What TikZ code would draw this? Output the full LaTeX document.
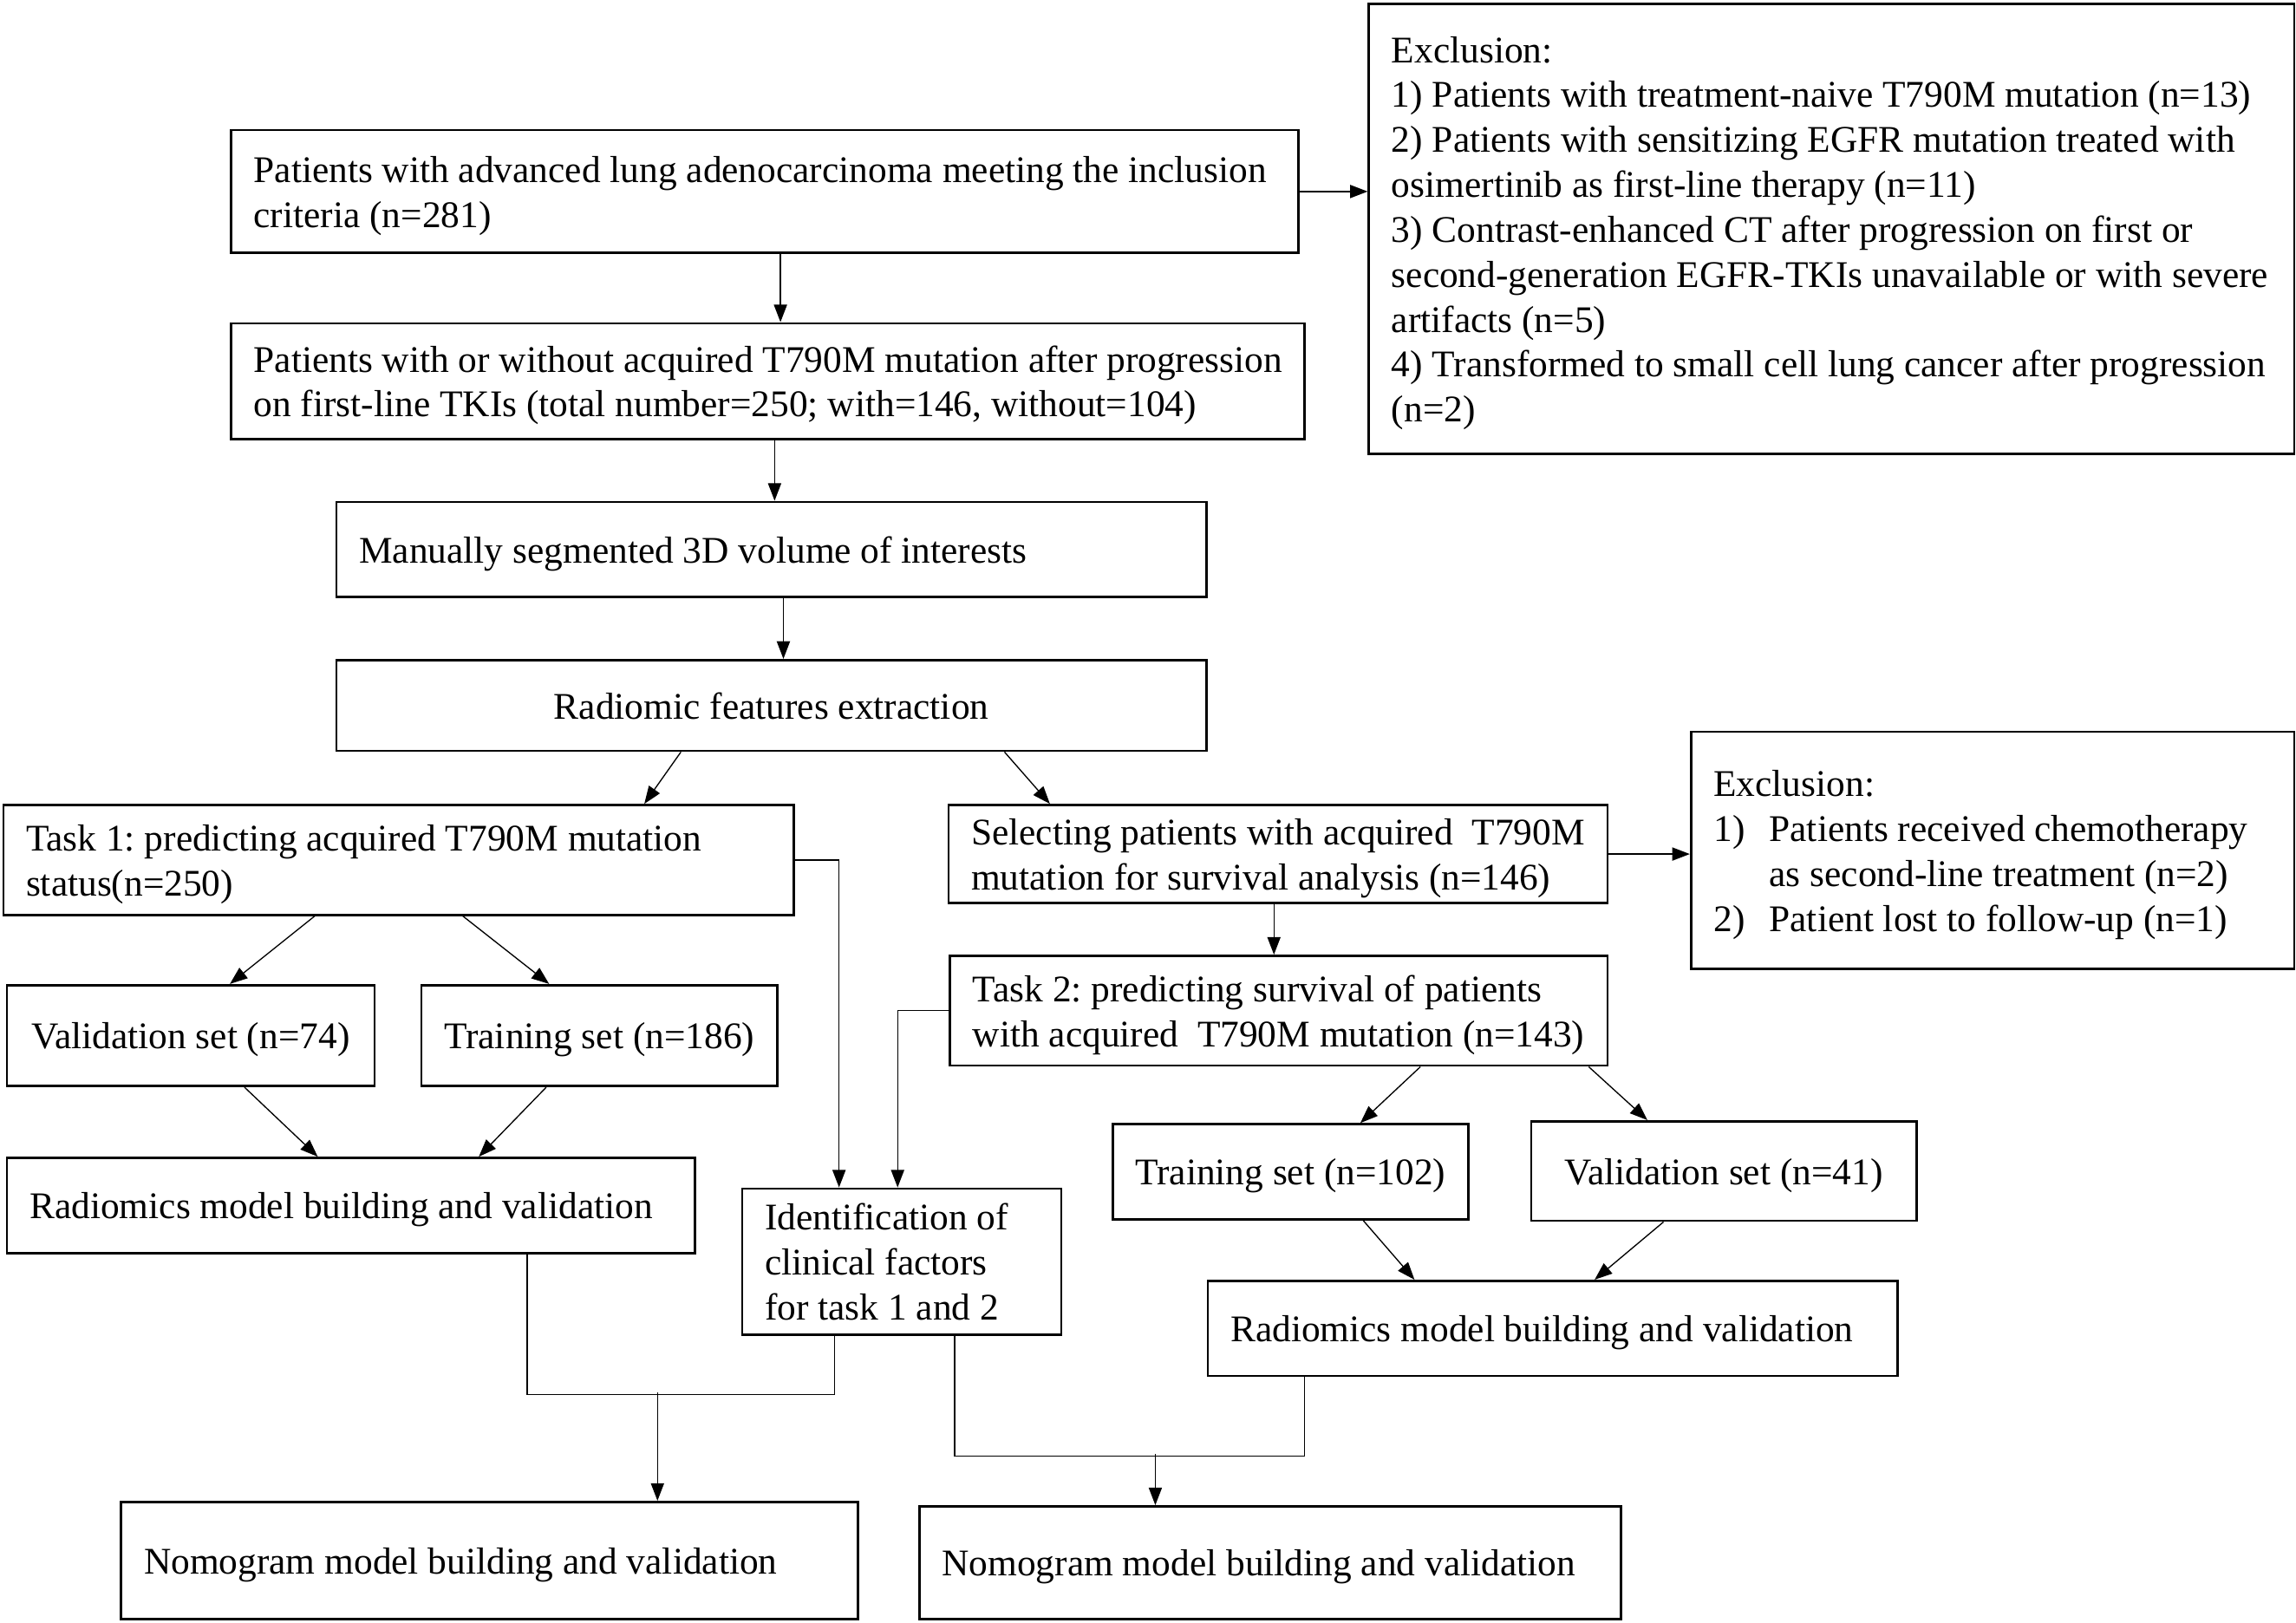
\documentclass[tikz,border=0pt]{standalone}
\usepackage{fontspec}
\setmainfont{Liberation Serif}
\usetikzlibrary{arrows.meta}
\newcommand{\mylines}[1]{\raisebox{-3pt}[\height][\depth]{\begin{tabular}{@{}l@{}}#1\end{tabular}}}
\begin{document}
\begin{tikzpicture}[x=1pt,y=-1pt,
  box/.style={draw, line width=1.6pt, anchor=north west, inner xsep=15.5pt, inner ysep=0pt, align=flush left, font=\fontsize{25.7pt}{30.7pt}\selectfont\frenchspacing},
  cbox/.style={box, align=flush center},
  arr/.style={line width=0.8pt, -{Triangle[length=12pt,width=9pt]}},
  ln/.style={line width=0.8pt},
]
\useasboundingbox (0,0) rectangle (1568,1108);
% top
\node[box, minimum width=729pt, minimum height=84pt, text width=698pt] (A) at (157,88) {\mylines{Patients with advanced lung adenocarcinoma meeting the inclusion\\criteria (n=281)}};
\node[box, minimum width=733pt, minimum height=79pt, text width=702pt] (B) at (157,220) {\mylines{Patients with or without acquired T790M mutation after progression\\on first-line TKIs (total number=250; with=146, without=104)}};
\node[box, minimum width=632pt, minimum height=307pt, text width=601pt] (E1) at (934,2) {\mylines{Exclusion:\\1) Patients with treatment-naive T790M mutation (n=13)\\2) Patients with sensitizing EGFR mutation treated with\\osimertinib as first-line therapy (n=11)\\3) Contrast-enhanced CT after progression on first or\\second-generation EGFR-TKIs unavailable or with severe\\artifacts (n=5)\\4) Transformed to small cell lung cancer after progression\\(n=2)}};
\node[box, minimum width=594pt, minimum height=65pt, text width=563pt] (C) at (229,342) {\mylines{Manually segmented 3D volume of interests}};
\node[cbox, minimum width=594pt, minimum height=62pt] (D) at (229,450) {\mylines{Radiomic features extraction}};
% middle
\node[box, minimum width=540pt, minimum height=75pt, text width=509pt] (T1) at (1.5,549) {\mylines{Task 1: predicting acquired T790M mutation\\status(n=250)}};
\node[box, minimum width=450pt, minimum height=67pt, text width=419pt] (S) at (647,549) {\mylines{Selecting patients with acquired\ \ T790M\\mutation for survival analysis (n=146)}};
\node[box, minimum width=412pt, minimum height=162pt, text width=381pt] (E2) at (1154,499) {\mylines{Exclusion:\\\makebox[38pt][l]{1)}Patients received chemotherapy\\\hspace*{38pt}as second-line treatment (n=2)\\\makebox[38pt][l]{2)}Patient lost to follow-up (n=1)}};
\node[box, minimum width=449pt, minimum height=75pt, text width=418pt] (T2) at (648,652) {\mylines{Task 2: predicting survival of patients\\with acquired\ \ T790M mutation (n=143)}};
\node[cbox, minimum width=251pt, minimum height=69pt] (V1) at (4,672) {\mylines{Validation set (n=74)}};
\node[cbox, minimum width=242pt, minimum height=69pt] (Tr1) at (287,672) {\mylines{Training set (n=186)}};
\node[box, minimum width=470pt, minimum height=65pt, text width=439pt] (R1) at (4,790) {\mylines{Radiomics model building and validation}};
\node[box, minimum width=218pt, minimum height=100pt, text width=187pt] (ID) at (506,811) {\mylines{Identification of\\clinical factors\\for task 1 and 2}};
\node[cbox, minimum width=241pt, minimum height=65pt] (Tr2) at (759,767) {\mylines{Training set (n=102)}};
\node[cbox, minimum width=263pt, minimum height=68pt] (V2) at (1045,765) {\mylines{Validation set (n=41)}};
\node[box, minimum width=471pt, minimum height=65pt, text width=440pt] (R2) at (824,874) {\mylines{Radiomics model building and validation}};
\node[box, minimum width=503pt, minimum height=80pt, text width=472pt] (N1) at (82,1025) {\mylines{Nomogram model building and validation}};
\node[box, minimum width=479pt, minimum height=77pt, text width=448pt] (N2) at (627,1028) {\mylines{Nomogram model building and validation}};
% connectors
\draw[arr] ([xshift=376pt]A.south west) -- ([xshift=376pt]B.north west);
\draw[arr] (A.east) -- (A.east -| E1.west);
\draw[arr] ([xshift=372pt]B.south west) -- ([xshift=300pt]C.north west);
\draw[arr] ([xshift=306pt]C.south west) -- ([xshift=306pt]D.north west);
\draw[arr] ([xshift=236pt]D.south west) -- ([xshift=438.5pt]T1.north west);
\draw[arr] ([xshift=457pt]D.south west) -- ([xshift=70pt]S.north west);
\draw[arr] (S.east) -- (S.east -| E2.west);
\draw[arr] ([xshift=223pt]S.south west) -- ([xshift=222pt]T2.north west);
\draw[arr] ([xshift=213.5pt]T1.south west) -- ([xshift=153pt]V1.north west);
\draw[arr] ([xshift=314.5pt]T1.south west) -- ([xshift=88pt]Tr1.north west);
\draw[arr] ([xshift=163pt]V1.south west) -- ([xshift=213pt]R1.north west);
\draw[arr] ([xshift=86pt]Tr1.south west) -- ([xshift=323pt]R1.north west);
\draw[arr] (T1.east) -| ([xshift=67pt]ID.north west);
\draw[arr] (T2.west) -| ([xshift=107pt]ID.north west);
\draw[arr] ([xshift=322pt]T2.south west) -- ([xshift=170pt]Tr2.north west);
\draw[arr] ([xshift=437pt]T2.south west) -- ([xshift=80pt]V2.north west);
\draw[arr] ([xshift=172pt]Tr2.south west) -- ([xshift=142pt]R2.north west);
\draw[arr] ([xshift=91pt]V2.south west) -- ([xshift=265pt]R2.north west);
\draw[ln] ([xshift=356pt]R1.south west) -- ++(0,96) -| ([xshift=64pt]ID.south west);
\coordinate (j1) at (449,951);
\draw[arr] (j1) -- (j1 |- N1.north);
\draw[ln] ([xshift=146pt]ID.south west) -- ++(0,82) -| ([xshift=67pt]R2.south west);
\coordinate (j2) at (789,993);
\draw[arr] (j2) -- (j2 |- N2.north);
\end{tikzpicture}
\end{document}
